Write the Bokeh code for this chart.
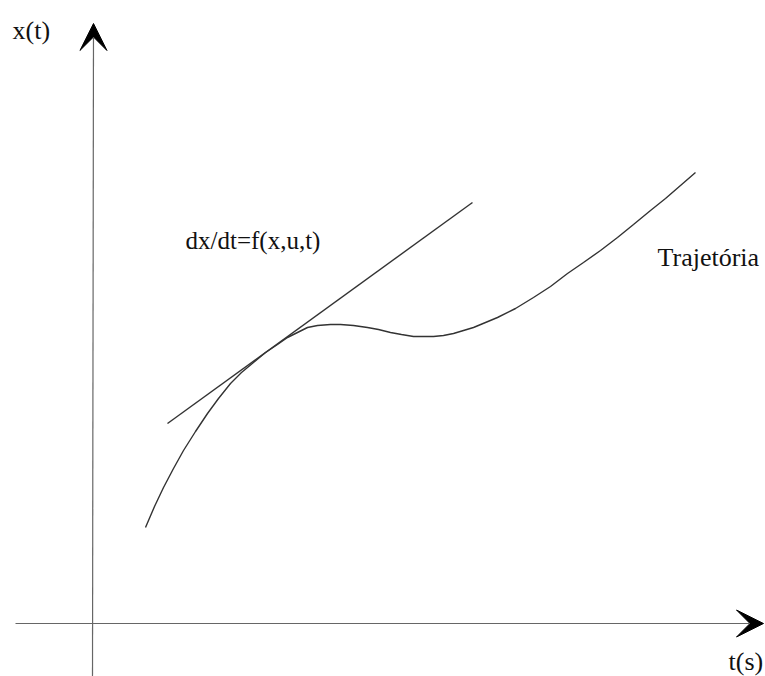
from bokeh.plotting import figure
from bokeh.models import Range1d, Arrow, VeeHead
from bokeh.core.properties import value
from bokeh.embed import file_html
from bokeh.resources import INLINE

# Trajectory x(t) (screen-like units, y grows downward)
traj_t = [145, 154, 163, 173, 183, 195, 207, 218, 230, 241, 253, 265, 277, 287, 297,
          307, 317, 330, 340, 353, 367, 378, 390, 401, 413, 423, 433, 443, 453, 463,
          473, 485, 497, 515, 533, 550, 567, 583, 600, 617, 633, 650, 665, 680, 695]
traj_x = [527, 506, 487, 468, 450, 431, 413, 398, 383, 372, 362, 352, 344, 337, 332,
          327, 325, 324, 324, 325, 327, 329, 332, 334, 336, 336, 336, 335, 333, 330,
          327, 322, 317, 308, 297, 286, 273, 262, 250, 237, 224, 210, 198, 185, 172]

# Tangent line dx/dt
tan_t = [167, 472]
tan_x = [423, 202]

# Labels
axis_labels = ["x(t)", "t(s)", "Trajetória"]
axis_label_t = [12, 728, 657]
axis_label_x = [30, 661, 257]
eq_label = ["dx/dt=f(x,u,t)"]
eq_t = [185]
eq_x = [240]

W, H = 765, 676
p = figure(width=W, height=H, output_backend="svg", toolbar_location=None,
           x_range=Range1d(0, W), y_range=Range1d(H, 0), min_border=0)
p.axis.visible = False
p.grid.visible = False
p.outline_line_color = None
p.background_fill_color = "white"
p.border_fill_color = "white"

# Axes with arrowheads
p.add_layout(Arrow(end=VeeHead(size=27, fill_color="black", line_color="black", line_width=1),
                   x_start=92, y_start=676, x_end=93, y_end=23,
                   line_color="#666666", line_width=1.2))
p.add_layout(Arrow(end=VeeHead(size=27, fill_color="black", line_color="black", line_width=1),
                   x_start=15, y_start=623, x_end=763, y_end=623,
                   line_color="#666666", line_width=1.2))

p.line(tan_t, tan_x, line_color="#333333", line_width=1.4)
p.line(traj_t, traj_x, line_color="#333333", line_width=1.4)

p.text(x=axis_label_t, y=axis_label_x, text=axis_labels, text_font=value("Liberation Serif"),
       text_font_size="26px", text_color="#111111", text_align="left",
       text_baseline="alphabetic")
p.text(x=eq_t, y=eq_x, text=eq_label, text_font=value("Liberation Serif"),
       text_font_size="25px", text_color="#111111", text_align="left",
       text_baseline="alphabetic")

open("out.html", "w").write(file_html(p, INLINE))
